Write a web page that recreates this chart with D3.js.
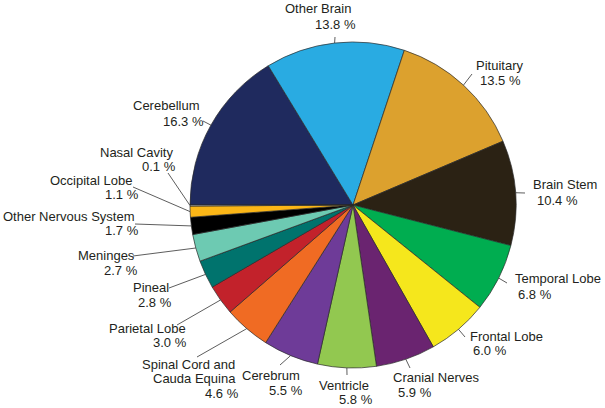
<!DOCTYPE html>
<html>
<head>
<meta charset="utf-8">
<script src="https://cdn.jsdelivr.net/npm/d3@7"></script>
<style>
  body { margin: 0; background: #fff; }
  text { font-family: "Liberation Sans", Arial, sans-serif; font-size: 13px; fill: #231f20; }
</style>
</head>
<body>
<div id="chart"></div>
<script>
// sites, clockwise from 9 o'clock
var sites = ["Cerebellum", "Other Brain", "Pituitary", "Brain Stem", "Temporal Lobe",
  "Frontal Lobe", "Cranial Nerves", "Ventricle", "Cerebrum", "Spinal Cord and\nCauda Equina",
  "Parietal Lobe", "Pineal", "Meninges", "Other Nervous System", "Occipital Lobe", "Nasal Cavity"];
var percents = [16.3, 13.8, 13.5, 10.4, 6.8, 6.0, 5.9, 5.8, 5.5, 4.6, 3.0, 2.8, 2.7, 1.7, 1.1, 0.1];
var colors = ["#1f2a5e", "#29abe2", "#dca12e", "#2b2214", "#00ad50", "#f5e71c", "#6a2470", "#92c850",
  "#6e3b98", "#f06b23", "#c2222b", "#00736d", "#6dcab2", "#000000", "#fbb617", "#dddddd"];

// label placement: leader end point, then [x, baseline] for each text line
var labelLayout = [
  { end: [203, 121], lines: [[133, 110], [163, 126]] },
  { end: [335, 37],  lines: [[285, 13], [315, 29]] },
  { end: [472, 74],  lines: [[476, 70], [480, 85]] },
  { end: [525, 193], lines: [[533, 189], [537, 205]] },
  { end: [507, 283], lines: [[515, 283], [518, 299]] },
  { end: [465, 337], lines: [[470, 341], [473, 355]] },
  { end: [410, 368], lines: [[393, 382], [398, 397]] },
  { end: [347, 375], lines: [[319, 390], [339, 404]] },
  { end: [280, 365], lines: [[242, 380], [269, 395]] },
  { end: [197, 357], lines: [[142, 369], [153, 383], [205, 398]] },
  { end: [177, 325], lines: [[109, 333], [153, 347]] },
  { end: [169, 288], lines: [[133, 292], [138, 307]] },
  { end: [133, 256], lines: [[78, 260], [104, 275]] },
  { end: [135, 224], lines: [[3, 221], [105, 235]] },
  { end: [133, 187], lines: [[50, 185], [105, 199]] },
  { end: [168, 173], lines: [[100, 157], [142, 171]] }
];

var width = 605,
  height = 408,
  cx = 353,
  cy = 205,
  radius = 163;

var svg = d3.select("div#chart").append("svg")
  .attr("width", width)
  .attr("height", height);

var data = sites.map(function(s, i) { return { name: s, value: percents[i], color: colors[i], layout: labelLayout[i] }; });

var pie = d3.pie()
  .sort(null)
  .value(function(d) { return d.value; })
  .startAngle(-Math.PI / 2)
  .endAngle(1.5 * Math.PI);

var arc = d3.arc().innerRadius(0).outerRadius(radius);
var edge = d3.arc().innerRadius(radius).outerRadius(radius); // point on the rim for leaders

var g = svg.append("g").attr("transform", "translate(" + cx + "," + cy + ")");

var arcs = pie(data);

g.selectAll("path.slice")
  .data(arcs)
  .enter().append("path")
  .attr("class", "slice")
  .attr("d", arc)
  .attr("fill", function(d) { return d.data.color; })
  .attr("stroke", "#2a2a2a")
  .attr("stroke-width", 0.7)
  .attr("stroke-linejoin", "round");

// leader lines
svg.selectAll("line.leader")
  .data(arcs)
  .enter().append("line")
  .attr("class", "leader")
  .attr("x1", function(d) { return cx + edge.centroid(d)[0]; })
  .attr("y1", function(d) { return cy + edge.centroid(d)[1]; })
  .attr("x2", function(d) { return d.data.layout.end[0]; })
  .attr("y2", function(d) { return d.data.layout.end[1]; })
  .attr("stroke", "#333")
  .attr("stroke-width", 0.8);

var fmt = d3.format(".1f");

// labels
arcs.forEach(function(d) {
  var textLines = d.data.name.split("\n").concat([fmt(d.data.value) + " %"]);
  textLines.forEach(function(t, j) {
    var p = d.data.layout.lines[j];
    svg.append("text")
      .attr("x", p[0])
      .attr("y", p[1])
      .text(t);
  });
});
</script>
</body>
</html>
